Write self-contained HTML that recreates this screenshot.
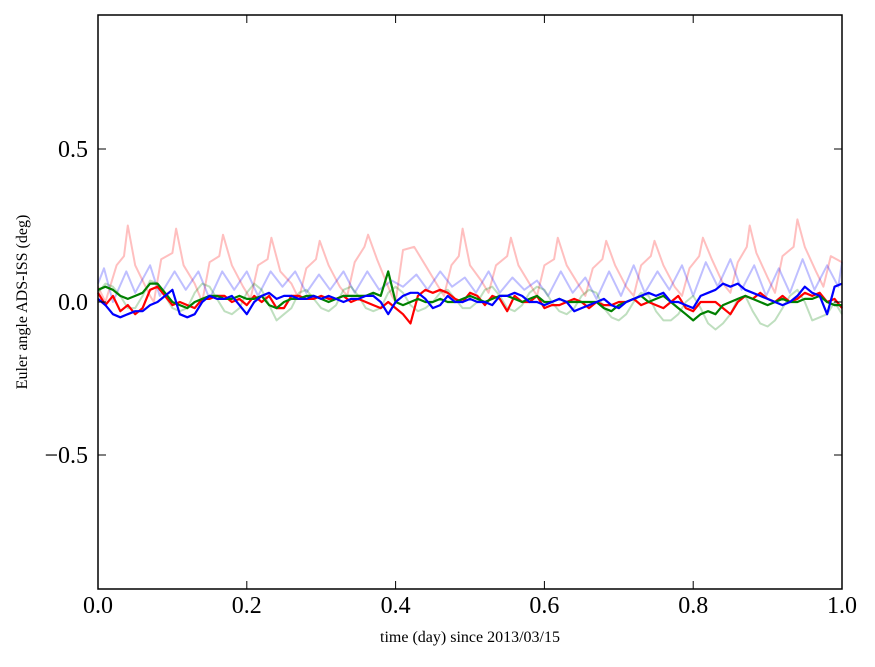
<!DOCTYPE html>
<html><head><meta charset="utf-8"><style>
body{margin:0;background:#fff;}
svg text{font-family:"Liberation Serif",serif;}
</style></head><body>
<svg id="chart" width="875" height="662" xmlns="http://www.w3.org/2000/svg">
<rect width="875" height="662" fill="#fff"/>
<g id="series"></g>
<rect x="98" y="15" width="744" height="574" fill="none" stroke="#000" stroke-width="1.5"/>
<g id="axes"></g>
<text x="470" y="642" font-size="16" text-anchor="middle">time (day) since 2013/03/15</text>
<text transform="translate(27,302) rotate(-90)" font-size="16" text-anchor="middle">Euler angle ADS-ISS (deg)</text>
</svg>
<script>
const xTicks=[0,0.2,0.4,0.6,0.8,1.0];
const xTickLabels=["0.0","0.2","0.4","0.6","0.8","1.0"];
const yTicks=[0.5,0,-0.5];
const yTickLabels=["0.5","0.0","\u22120.5"];
const fadedRedT=[0,0.01,0.025,0.035,0.04,0.05,0.06,0.07,0.075,0.085,0.1,0.105,0.115,0.13,0.14,0.15,0.163,0.168,0.18,0.195,0.205,0.215,0.228,0.233,0.245,0.26,0.27,0.28,0.293,0.298,0.31,0.325,0.335,0.345,0.358,0.363,0.375,0.39,0.395,0.4,0.41,0.425,0.44,0.455,0.465,0.475,0.485,0.49,0.5,0.515,0.525,0.535,0.55,0.555,0.565,0.58,0.59,0.6,0.613,0.618,0.63,0.645,0.655,0.665,0.678,0.683,0.695,0.71,0.72,0.73,0.743,0.748,0.76,0.775,0.785,0.795,0.808,0.813,0.825,0.84,0.85,0.86,0.872,0.876,0.885,0.9,0.91,0.92,0.935,0.94,0.95,0.965,0.975,0.985,1.0];
const fadedRedV=[0.05,0.0,0.12,0.15,0.25,0.12,0.07,0.02,0.0,0.14,0.16,0.24,0.12,0.06,0.0,0.13,0.15,0.22,0.12,0.05,0.01,0.12,0.14,0.21,0.1,0.06,0.01,0.11,0.14,0.2,0.12,0.05,0.02,0.13,0.18,0.22,0.14,0.05,0.02,0.0,0.17,0.18,0.12,0.06,0.02,0.12,0.15,0.24,0.12,0.07,0.03,0.12,0.15,0.21,0.12,0.06,0.02,0.12,0.14,0.21,0.12,0.06,0.02,0.11,0.14,0.2,0.12,0.05,0.02,0.12,0.15,0.2,0.12,0.05,0.02,0.11,0.15,0.21,0.14,0.06,0.03,0.13,0.18,0.25,0.16,0.08,0.03,0.15,0.18,0.27,0.18,0.1,0.05,0.15,0.13];
const fadedBlueT=[0,0.008,0.02,0.038,0.05,0.07,0.083,0.103,0.118,0.135,0.15,0.167,0.183,0.2,0.215,0.232,0.248,0.265,0.28,0.297,0.312,0.33,0.345,0.362,0.378,0.395,0.41,0.428,0.443,0.46,0.476,0.493,0.508,0.525,0.54,0.557,0.573,0.59,0.605,0.622,0.638,0.655,0.67,0.687,0.703,0.72,0.735,0.752,0.768,0.785,0.8,0.817,0.833,0.85,0.865,0.882,0.898,0.915,0.93,0.947,0.963,0.98,0.995,1.0];
const fadedBlueV=[0.06,0.11,0.0,0.1,0.03,0.12,0.02,0.1,0.04,0.1,0.01,0.1,0.04,0.1,0.02,0.1,0.05,0.1,0.03,0.09,0.04,0.1,0.03,0.1,0.04,0.07,0.05,0.09,0.04,0.1,0.05,0.08,0.03,0.1,0.03,0.08,0.04,0.07,0.02,0.1,0.03,0.08,0.01,0.1,0.02,0.12,0.03,0.1,0.04,0.12,0.02,0.13,0.05,0.14,0.04,0.12,0.02,0.11,0.03,0.14,0.04,0.12,0.05,0.13];
const fadedGreenV=[0.03,0.06,0.05,0.02,-0.02,-0.02,0.02,0.07,0.06,0.02,-0.02,-0.03,-0.02,0.03,0.06,0.05,0.01,-0.03,-0.04,-0.02,0.03,0.06,0.04,-0.01,-0.06,-0.04,-0.02,0.03,0.04,0.01,-0.02,-0.03,-0.01,0.04,0.05,0.02,-0.02,-0.03,-0.02,0.03,0.05,0.03,-0.01,-0.03,-0.02,0.0,0.03,0.04,0.01,-0.02,-0.02,0.0,0.04,0.05,0.02,-0.02,-0.03,-0.01,0.03,0.05,0.04,0.0,-0.03,-0.04,-0.02,0.02,0.04,0.03,-0.02,-0.05,-0.06,-0.04,0.0,0.03,0.02,-0.03,-0.06,-0.06,-0.04,0.0,0.02,-0.02,-0.07,-0.09,-0.07,-0.04,0.01,0.02,-0.03,-0.07,-0.08,-0.06,-0.02,0.02,0.04,0.0,-0.06,-0.05,-0.04,0.0,-0.04];
const redV=[0.03,-0.01,0.02,-0.03,-0.01,-0.04,-0.02,0.04,0.05,0.02,-0.01,0.0,-0.01,-0.02,0.01,0.01,0.02,0.02,0.0,0.01,-0.01,0.02,0.0,0.02,-0.02,-0.02,0.02,0.02,0.01,0.01,0.02,0.01,0.01,0.02,0.0,0.01,0.0,-0.01,-0.02,0.0,-0.02,-0.04,-0.07,0.02,0.04,0.03,0.04,0.03,0.01,0.0,0.03,0.02,-0.01,0.02,0.01,-0.03,0.02,0.0,0.0,0.02,-0.02,-0.01,-0.01,0.0,0.01,0.0,-0.02,0.0,-0.01,-0.01,0.0,0.0,0.01,-0.01,0.0,-0.01,-0.02,0.0,0.02,-0.02,-0.03,0.0,0.0,0.0,-0.02,-0.04,0.0,0.02,0.01,0.03,0.01,0.0,0.02,0.0,0.01,0.03,0.02,0.03,0.0,0.01,-0.02];
const greenV=[0.04,0.05,0.04,0.02,0.01,0.02,0.03,0.06,0.06,0.03,0.0,-0.01,-0.02,0.0,0.01,0.02,0.02,0.01,0.01,0.02,0.01,0.01,0.02,-0.01,-0.02,0.0,0.01,0.01,0.02,0.02,0.01,0.0,0.01,0.02,0.02,0.02,0.02,0.03,0.02,0.1,0.0,-0.01,0.0,0.01,0.0,0.0,0.01,0.0,0.0,0.01,0.02,0.01,0.0,0.01,0.02,0.02,0.01,0.0,0.01,0.02,0.0,0.0,0.01,0.0,0.0,0.0,0.0,0.0,-0.02,-0.03,-0.01,0.0,0.01,0.02,0.0,0.01,0.02,0.0,-0.02,-0.04,-0.06,-0.04,-0.03,-0.04,-0.01,0.0,0.01,0.02,0.01,0.0,-0.01,0.0,0.01,0.0,0.0,0.01,0.01,0.02,0.0,-0.01,-0.01];
const blueV=[0.01,-0.01,-0.04,-0.05,-0.04,-0.03,-0.03,-0.01,0.0,0.02,0.04,-0.04,-0.05,-0.04,0.0,0.02,0.01,0.01,0.02,-0.01,-0.04,0.0,0.02,0.03,0.01,0.02,0.02,0.01,0.01,0.02,0.01,0.02,0.01,0.0,0.01,0.01,0.02,0.02,0.0,-0.04,0.0,0.02,0.03,0.03,0.01,-0.02,-0.01,0.02,0.0,0.0,0.01,0.0,0.0,-0.01,0.02,0.02,0.03,0.02,0.0,0.0,-0.01,0.0,0.01,0.0,-0.03,-0.02,-0.01,0.0,0.01,-0.01,-0.02,0.0,0.01,0.02,0.03,0.02,0.03,0.0,0.0,-0.01,-0.02,0.02,0.03,0.04,0.06,0.05,0.06,0.04,0.03,0.02,0.01,0.0,-0.01,0.0,0.02,0.05,0.03,0.02,-0.04,0.05,0.06];

const X0=98,X1=842,Y0=302,YS=306;
function xs(t){return X0+t*(X1-X0);}
function ys(v){return Y0-v*YS;}
const NS="http://www.w3.org/2000/svg";
const grid=[];for(let i=0;i<=100;i++)grid.push(i/100);
const sg=document.getElementById('series');
function line(ts,vs,color,w,op,name){
  const p=document.createElementNS(NS,'polyline');
  p.setAttribute('points',ts.map((t,i)=>xs(t).toFixed(1)+','+ys(vs[i]).toFixed(1)).join(' '));
  p.setAttribute('fill','none');p.setAttribute('stroke',color);
  p.setAttribute('stroke-width',w);p.setAttribute('stroke-opacity',op);
  p.setAttribute('stroke-linejoin','round');
  
  
  sg.appendChild(p);
}
line(fadedRedT,fadedRedV,'#ff0000',2,0.25,'faded-red-series');
line(fadedBlueT,fadedBlueV,'#0000ff',2,0.25,'faded-blue-series');
line(grid,fadedGreenV,'#008000',2,0.25,'faded-green-series');
line(grid,redV,'#ff0000',2.2,1,'red-series');
line(grid,greenV,'#008000',2.2,1,'green-series');
line(grid,blueV,'#0000ff',2.2,1,'blue-series');

const ax=document.getElementById('axes');
xTicks.forEach((t,i)=>{
  const x=xs(t);
  [[589,581],[15,23]].forEach(([a,b])=>{
    const l=document.createElementNS(NS,'line');
    l.setAttribute('x1',x);l.setAttribute('x2',x);l.setAttribute('y1',a);l.setAttribute('y2',b);
    l.setAttribute('stroke','#000');
    
    
    ax.appendChild(l);
  });
  const tx=document.createElementNS(NS,'text');
  tx.setAttribute('x',x);tx.setAttribute('y',613);tx.setAttribute('font-size','24');tx.setAttribute('text-anchor','middle');
  tx.textContent=xTickLabels[i];
  
  
  ax.appendChild(tx);
});
yTicks.forEach((v,i)=>{
  const y=ys(v);
  [[98,106],[842,834]].forEach(([a,b])=>{
    const l=document.createElementNS(NS,'line');
    l.setAttribute('x1',a);l.setAttribute('x2',b);l.setAttribute('y1',y);l.setAttribute('y2',y);
    l.setAttribute('stroke','#000');
    
    
    ax.appendChild(l);
  });
  const tx=document.createElementNS(NS,'text');
  tx.setAttribute('x',88);tx.setAttribute('y',y+8);tx.setAttribute('font-size','24');tx.setAttribute('text-anchor','end');
  tx.textContent=yTickLabels[i];
  
  
  ax.appendChild(tx);
});
</script>
</body></html>
